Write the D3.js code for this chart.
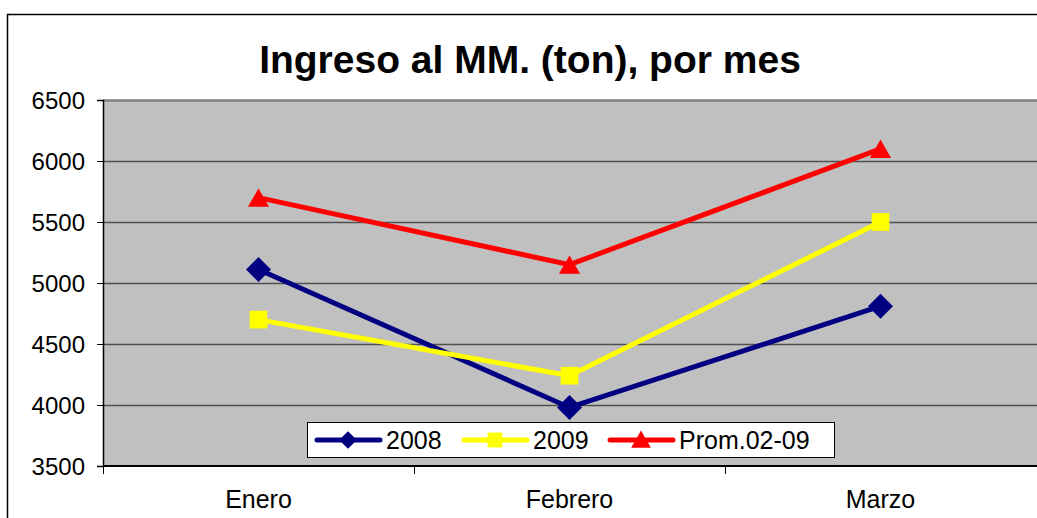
<!DOCTYPE html>
<html>
<head>
<meta charset="utf-8">
<script src="https://cdn.jsdelivr.net/npm/d3@7"></script>
<style>
  body { margin: 0; background: #fff; }
  svg { display: block; font-family: Arial, "Liberation Sans", sans-serif; }
</style>
</head>
<body>
<svg id="chart" width="1037" height="518"></svg>
<script>
// values
let months = ["Enero", "Febrero", "Marzo"];
let yTicks = [3500, 4000, 4500, 5000, 5500, 6000, 6500];
let serie2008 = [5110, 3980, 4810];
let serie2009 = [4700, 4240, 5500];
let seriePromedio = [5700, 5150, 6100];

let series = [
    {name: "2008", values: serie2008, color: "#000080", marker: d3.symbolDiamond2},
    {name: "2009", values: serie2009, color: "#FFFF00", marker: d3.symbolSquare2},
    {name: "Prom.02-09", values: seriePromedio, color: "#FF0000", marker: d3.symbolTriangle2}
];

let svg = d3.select("#chart"),
    margin = {top: 100, right: 1, bottom: 52, left: 103},
    height = 518 - margin.top - margin.bottom,
    plotW = 1037 - margin.left + 10;

// outer frame of the chart (runs off the right and bottom of the picture)
svg.append("rect")
    .attr("x", 7.5).attr("y", 14.5)
    .attr("width", 1100).attr("height", 600)
    .attr("fill", "#fff")
    .attr("stroke", "#000")
    .attr("stroke-width", 1.5);

svg.append("text")
    .attr("x", 530)
    .attr("y", 73)
    .attr("text-anchor", "middle")
    .style("font-size", "39px")
    .style("font-weight", "bold")
    .text("Ingreso al MM. (ton), por mes");

let g = svg.append("g").attr("transform", "translate(" + margin.left + "," + margin.top + ")");

let x = d3.scaleBand()
    .domain(months)
    .range([0, 311 * 3]);

let y = d3.scaleLinear()
    .domain([3500, 6500])
    .range([height, 0]);

g.append("rect")
    .attr("width", plotW)
    .attr("height", height)
    .attr("fill", "#C0C0C0");

// gridlines
g.append("g")
    .selectAll("line")
    .data(yTicks.slice(1))
    .enter().append("line")
    .attr("x1", 0)
    .attr("x2", plotW)
    .attr("y1", function (d) { return Math.round(y(d)) + 0.5; })
    .attr("y2", function (d) { return Math.round(y(d)) + 0.5; })
    .attr("stroke", function (d) { return d === 6500 ? "#808080" : "#505050"; })
    .attr("stroke-width", function (d) { return d === 6500 ? 2.5 : 1.5; });

let yAxis = g.append("g")
    .attr("class", "axis axis--y")
    .call(d3.axisLeft(y).tickValues(yTicks).tickSize(6).tickPadding(12).tickFormat(d3.format("d")));
yAxis.select(".domain").attr("stroke", "#000").attr("stroke-width", 1.5);
yAxis.selectAll(".tick line").attr("stroke", "#000");
yAxis.selectAll("text").style("font-size", "24px").attr("fill", "#000").attr("dy", "0.36em");

let xAxis = g.append("g")
    .attr("class", "axis axis--x")
    .attr("transform", "translate(0," + height + ")")
    .call(d3.axisBottom(x).tickSize(0).tickPadding(24));
xAxis.select(".domain").attr("d", "M0,0H" + plotW).attr("stroke", "#000").attr("stroke-width", 2);
xAxis.selectAll("text").style("font-size", "25px").attr("fill", "#000");

// category separator ticks
g.append("g")
    .selectAll("line")
    .data(months)
    .enter().append("line")
    .attr("x1", function (d) { return x(d) + 0.5; })
    .attr("x2", function (d) { return x(d) + 0.5; })
    .attr("y1", height)
    .attr("y2", height + 8)
    .attr("stroke", "#000");

let line = d3.line()
    .x(function (d, i) { return x(months[i]) + x.bandwidth() / 2; })
    .y(function (d) { return y(d); });

series.forEach(function (s) {
    g.append("path")
        .datum(s.values)
        .attr("fill", "none")
        .attr("stroke", s.color)
        .attr("stroke-width", 5)
        .attr("d", line);
    g.selectAll(null)
        .data(s.values)
        .enter().append("path")
        .attr("transform", function (d, i) {
            let yOff = s.marker === d3.symbolTriangle2 ? 3 : 0;
            return "translate(" + (x(months[i]) + x.bandwidth() / 2) + "," + (y(d) + yOff) + ")";
        })
        .attr("fill", s.color)
        .attr("d", d3.symbol().type(s.marker).size(s.marker === d3.symbolTriangle2 ? 320 : 400));
});

// legend
let legend = svg.append("g").attr("transform", "translate(307,422)");
legend.append("rect")
    .attr("x", 0.5).attr("y", 0.5)
    .attr("width", 527).attr("height", 35)
    .attr("fill", "#fff")
    .attr("stroke", "#000");

let legendX = [8, 155, 301];
series.forEach(function (s, i) {
    let lg = legend.append("g").attr("transform", "translate(" + legendX[i] + ",18)");
    lg.append("line")
        .attr("x1", 2).attr("x2", 65)
        .attr("stroke", s.color)
        .attr("stroke-width", 5)
        .attr("stroke-linecap", "round");
    lg.append("path")
        .attr("transform", "translate(33," + (s.marker === d3.symbolTriangle2 ? 2 : 0) + ")")
        .attr("fill", s.color)
        .attr("d", d3.symbol().type(s.marker).size(s.marker === d3.symbolDiamond2 ? 200 : 280));
    lg.append("text")
        .attr("x", 71)
        .attr("dy", "0.36em")
        .style("font-size", "25px")
        .text(s.name);
});
</script>
</body>
</html>
